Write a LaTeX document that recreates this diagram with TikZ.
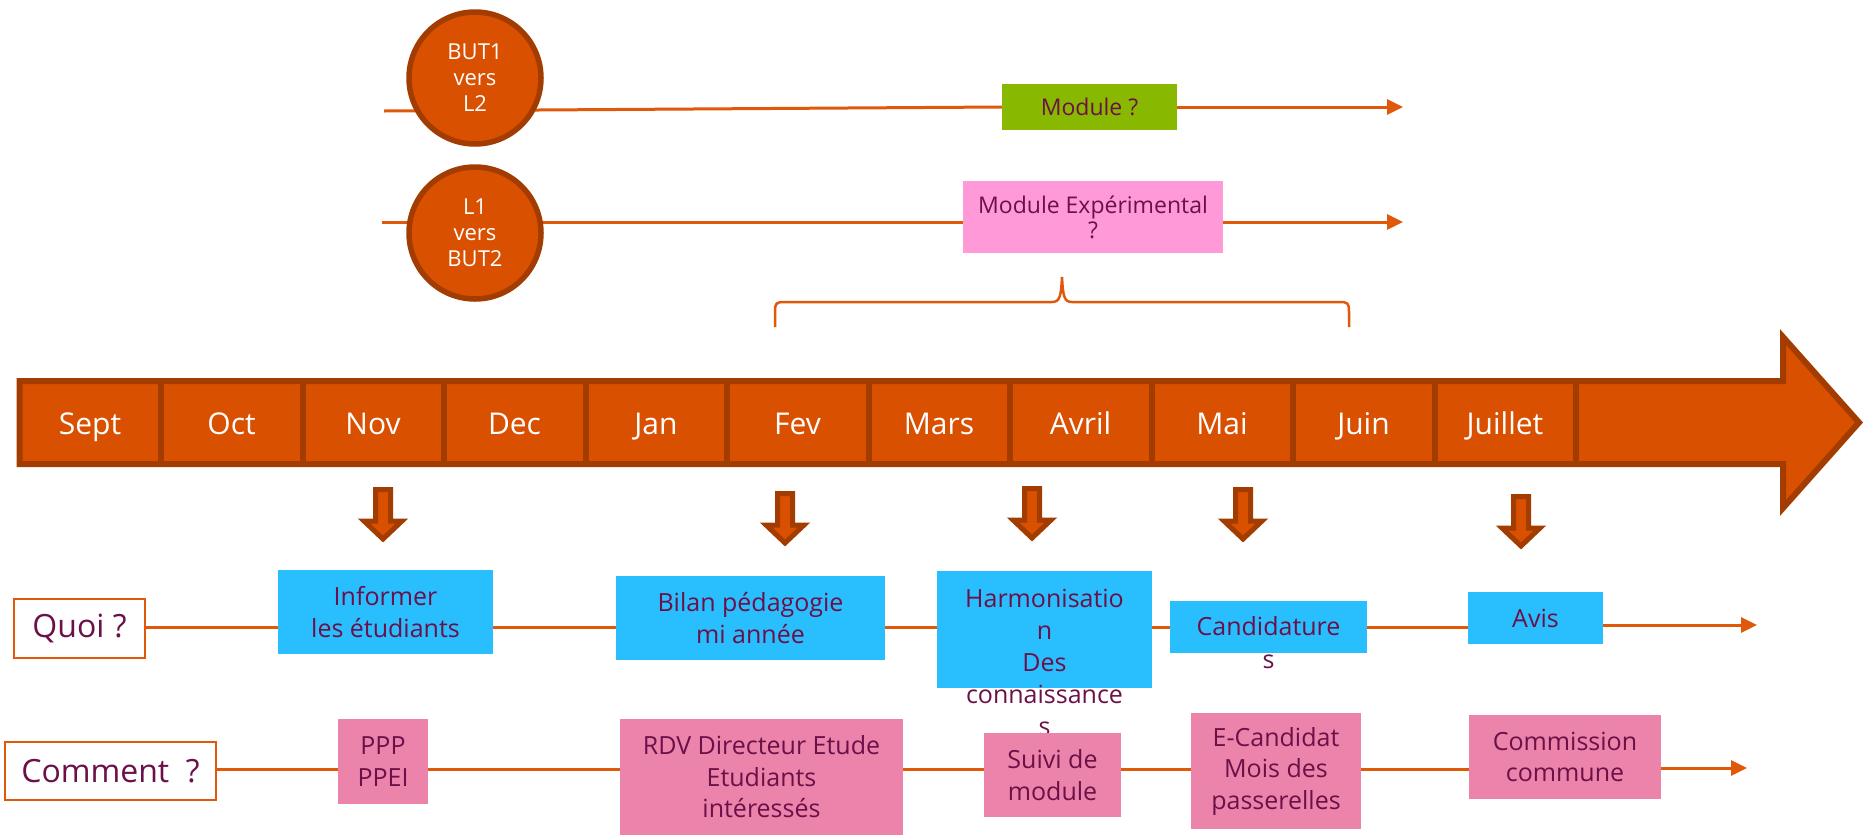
\documentclass[tikz,border=0pt]{standalone}
\usepackage{fontspec}
\setmainfont{Open Sans}
\usetikzlibrary{arrows.meta,backgrounds,positioning}
\definecolor{rust}{HTML}{D95000}
\definecolor{rustdark}{HTML}{A33C00}
\definecolor{linecol}{HTML}{E0580A}
\definecolor{plum}{HTML}{6B1048}
\definecolor{skyblue}{HTML}{29BFFF}
\definecolor{rosebox}{HTML}{EC83AA}
\definecolor{pinkbox}{HTML}{FF99D8}
\definecolor{leaf}{HTML}{88B800}

\begin{document}
\begin{tikzpicture}
	[x=1pt,y=-1pt,
	link/.style={linecol,line width=3pt},
	tolink/.style={link,-{Triangle[length=16pt,width=15pt]}},
	period/.style={circle,fill=rust,draw=rustdark,line width=5.5pt,minimum size=132pt,inner sep=0pt,
		text=white,align=center,font=\fontsize{22}{26}\selectfont},
	month/.style={text=white,anchor=base,font=\fontsize{30}{36}\selectfont},
	tbox/.style={rectangle,inner sep=0pt,text=plum,align=center,font=\fontsize{25}{31.5}\selectfont},
	modbox/.style={tbox,font=\fontsize{23}{25}\selectfont},
	rowhead/.style={tbox,fill=white,draw=linecol,line width=2pt,font=\fontsize{32}{36}\selectfont},
	quoibox/.style={tbox,fill=skyblue},
	commentbox/.style={tbox,fill=rosebox},
	blockarr/.style={fill=rust,draw=rustdark,line width=5pt,line join=miter},
	brace/.style={linecol,line width=2.5pt}]
	\useasboundingbox (0,0) rectangle (1864,836);

	\node[period] (but1) at (475,78) {BUT1\\vers\\L2};
	\node[period] (l1) at (475,233) {L1\\vers\\BUT2};
	\node[modbox,fill=leaf,minimum width=175pt,minimum height=46pt] (modA) at (1089.5,107) {Module ?};
	\node[modbox,fill=pinkbox,minimum width=260pt,minimum height=72pt] (modB) at (1093,217) {Module Expérimental\\?};
	\coordinate (rowA) at (384,111);
	\coordinate (endA) at (1403,107);
	\coordinate (rowB) at (382,222);
	\coordinate (endB) at (1403,222);
	\begin{pgfonlayer}{background}
		\draw[link] (rowA) -- (modA.west);
		\draw[link] (rowB) -- (rowB -| modB.west);
	\end{pgfonlayer}
	\draw[tolink] (modA.east) -- (endA);
	\draw[tolink] (modB.east |- rowB) -- (endB);

	\draw[brace] (775,327) -- (775,312) .. controls (775,303) and (776,302) .. (785,302) -- (1052,302)
		.. controls (1060,302) and (1061,296) .. (1062,277) .. controls (1063,296) and (1064,302) .. (1072,302)
		-- (1339,302) .. controls (1348,302) and (1349,303) .. (1349,312) -- (1349,327);

	\draw[blockarr,line width=6pt] (19.5,381) -- (1783,381) -- (1783,337) -- (1859,422.5) -- (1783,508)
		-- (1783,464) -- (19.5,464) -- cycle;
	\foreach \k in {1,...,11}
		\draw[rustdark,line width=6pt] ({19.5+141.5*\k},381) -- ({19.5+141.5*\k},464);
	\foreach \m [count=\i from 0] in {Sept,Oct,Nov,Dec,Jan,Fev,Mars,Avril,Mai,Juin,Juillet}
		\node[month] (m\i) at ({90+141.5*\i},434) {\m};

	\foreach \x/\t in {383/487,785/491,1032/486,1243/487,1521/494}
		\draw[blockarr] ({\x-7.5},{\t+2.5}) -- ({\x+7.5},{\t+2.5}) -- ({\x+7.5},{\t+34}) -- ({\x+19},{\t+34})
			-- (\x,{\t+52}) -- ({\x-19},{\t+34}) -- ({\x-7.5},{\t+34}) -- cycle;

	\node[rowhead,minimum width=131pt,minimum height=59pt] (quoi) at (79.5,628.5) {Quoi ?};
	\node[quoibox,minimum width=215pt,minimum height=84pt] (informer) at (385.5,612) {Informer\\les étudiants};
	\node[quoibox,minimum width=269pt,minimum height=84pt] (bilan) at (750.5,618) {Bilan pédagogie\\mi année};
	\node[quoibox,minimum width=215pt,minimum height=117pt] (harmo) at (1044.5,629.5) {};
	\node[quoibox,minimum width=197pt,minimum height=52pt] (candid) at (1268.5,627) {};
	\node[quoibox,minimum width=135pt,minimum height=52pt] (avis) at (1535.5,618) {Avis};
	\node[tbox,font=\fontsize{25}{32}\selectfont] (harmotext) at (1044.5,662) {Harmonisatio\\n\\Des\\connaissance\\s};
	\node[tbox,font=\fontsize{25}{33}\selectfont] (candidtext) at (1268.5,643) {Candidature\\s};
	\coordinate (qrow) at (0,627);
	\coordinate (qend) at (1757,625);
	\foreach \a/\b in {quoi/informer,informer/bilan,bilan/harmo,harmo/candid,candid/avis}
		\draw[link] (\a.east |- qrow) -- (\b.west |- qrow);
	\draw[tolink] (avis.east |- qend) -- (qend);

	\node[rowhead,minimum width=211pt,minimum height=58pt] (comment) at (110.5,771) {Comment~~?};
	\node[commentbox,minimum width=90pt,minimum height=85pt] (ppp) at (383,761.5) {PPP\\PPEI};
	\node[commentbox,minimum width=283pt,minimum height=116pt] (rdv) at (761.5,777) {RDV Directeur Etude\\Etudiants\\intéressés};
	\node[commentbox,minimum width=137pt,minimum height=84pt] (suivi) at (1052.5,775) {Suivi de\\module};
	\node[commentbox,minimum width=170pt,minimum height=116pt] (ecand) at (1276,771) {E-Candidat\\Mois des\\passerelles};
	\node[commentbox,minimum width=192pt,minimum height=84pt] (commis) at (1565,757) {Commission\\commune};
	\coordinate (crow) at (0,769);
	\coordinate (cend) at (1747,768);
	\foreach \a/\b in {comment/ppp,ppp/rdv,rdv/suivi,suivi/ecand,ecand/commis}
		\draw[link] (\a.east |- crow) -- (\b.west |- crow);
	\draw[tolink] (commis.east |- cend) -- (cend);
\end{tikzpicture}
\end{document}
